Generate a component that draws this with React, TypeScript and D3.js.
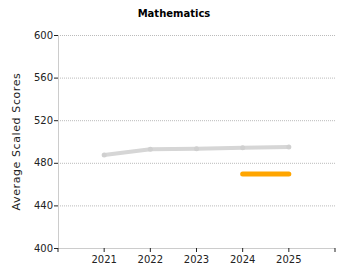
import React from "react";
import * as d3 from "d3";

const years = [2021, 2022, 2023, 2024, 2025];
const grayValues = [487.3, 492.7, 493.3, 494.2, 494.8];
const orangeYears = [2024, 2025];
const orangeValues = [469.5, 469.5];
const yTicks = [400, 440, 480, 520, 560, 600];
const xTicks = [2020, 2021, 2022, 2023, 2024, 2025, 2026];

const W = 350, H = 280;
const m = { left: 58, right: 15, top: 35, bottom: 32 };

export default function App() {
  const x = d3.scaleLinear().domain([2020, 2026]).range([m.left, W - m.right]);
  const y = d3.scaleLinear().domain([400, 600]).range([H - m.bottom, m.top]);
  const line = d3.line<number>().x((_, i) => x(years[i])).y((d) => y(d));
  const oline = d3.line<number>().x((_, i) => x(orangeYears[i])).y((d) => y(d));
  const font = "DejaVu Sans, Verdana, sans-serif";
  return (
    <svg width={W} height={H} style={{ position: "absolute", left: 0, top: 0 }}>
      <rect width={W} height={H} fill="#fff" />
      <text x={174} y={17} textAnchor="middle" fontFamily={font} fontWeight="bold" fontSize={10} fill="#000">Mathematics</text>
      {yTicks.map((t) => (
        <g key={t}>
          {t !== 400 && (
            <line x1={m.left} x2={W - m.right} y1={y(t) + 0.5} y2={y(t) + 0.5} stroke="#bbb" strokeDasharray="1,1" />
          )}
          <line x1={m.left - 4} x2={m.left} y1={y(t) + 0.5} y2={y(t) + 0.5} stroke="#222" />
          <text x={m.left - 5} y={y(t) + 3.5} textAnchor="end" fontFamily={font} fontSize={10} fill="#222">{t}</text>
        </g>
      ))}
      <line x1={m.left + 0.5} x2={m.left + 0.5} y1={m.top} y2={y(400)} stroke="#ccc" />
      <line x1={m.left} x2={W - m.right} y1={y(400) + 0.5} y2={y(400) + 0.5} stroke="#ccc" />
      {xTicks.map((t) => (
        <g key={t}>
          <line x1={x(t)} x2={x(t)} y1={y(400)} y2={y(400) + 4} stroke="#222" />
          {years.includes(t) && (
            <text x={x(t)} y={y(400) + 15} textAnchor="middle" fontFamily={font} fontSize={10} fill="#222">{t}</text>
          )}
        </g>
      ))}
      <text transform={`translate(20,${(m.top + y(400)) / 2}) rotate(-90)`} textAnchor="middle" fontFamily={font} fontSize={11} letterSpacing={0.6} fill="#222">Average Scaled Scores</text>
      <path d={line(grayValues) || ""} fill="none" stroke="#d6d6d6" strokeWidth={4} strokeLinejoin="round" />
      {grayValues.map((v, i) => (
        <circle key={i} cx={x(years[i])} cy={y(v)} r={2.5} fill="#d0d0d0" />
      ))}
      <path d={oline(orangeValues) || ""} fill="none" stroke="#FFA500" strokeWidth={5} strokeLinecap="round" />
    </svg>
  );
}
